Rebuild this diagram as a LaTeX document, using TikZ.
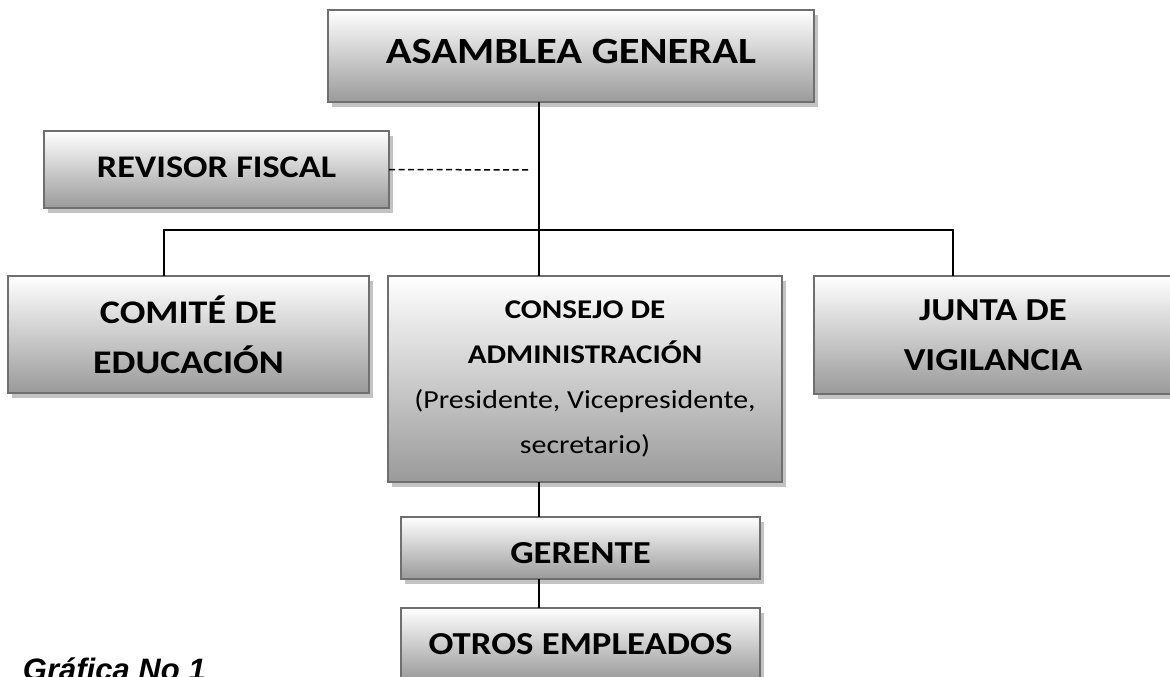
\documentclass[tikz,border=0pt]{standalone}
\usepackage{fontspec}
\setmainfont{Carlito}[FakeStretch=1.15]
\newfontfamily\graficafont{Liberation Sans}
\usetikzlibrary{calc,positioning,shadows}
\definecolor{boxline}{HTML}{6F6F6F}
\definecolor{boxshade}{HTML}{9A9A9A}
\definecolor{boxshadow}{HTML}{C3C3C3}
\tikzset{
	org chart/.style={
		x=1pt, y=-1pt,
		line width=2pt,
		every node/.style={inner sep=0pt, outer sep=0pt},
		rel/.style={draw, line width=2pt},
		aux/.style={draw, line width=1.5pt, dash pattern=on 6pt off 3.5pt}
		},
	ob/.style 2 args={
		draw=boxline, line width=2.2pt,
		top color=white, bottom color=boxshade,
		drop shadow={shadow xshift=4pt, shadow yshift=-5pt, fill=boxshadow, opacity=1},
		minimum width=#1pt, minimum height=#2pt,
		align=center, font=\bfseries},
	ob font/.style={font=\bfseries\fontsize{#1}{50}\selectfont}
}

\begin{document}
\begin{tikzpicture}[org chart]
  \useasboundingbox (0,0) rectangle (1170,677);
  \node[ob={486}{92}, ob font=37, text depth=10pt] (asamblea) at (571,56) {ASAMBLEA GENERAL};
  \node[ob={345}{77}, ob font=31.5, text depth=5pt] (revisor) at (216.5,169.5) {REVISOR FISCAL};
  \node[ob={361}{117}, ob font=33] (comite) at (188.5,334.5) {COMITÉ DE\\EDUCACIÓN};
  \node[ob={394}{206}, font=\bfseries\fontsize{27}{45}\selectfont] (consejo) at (585,379)
    {CONSEJO DE\\ADMINISTRACIÓN\\{\mdseries\fontsize{26}{45}\selectfont (Presidente, Vicepresidente,}\\{\mdseries\fontsize{26}{45}\selectfont secretario)}};
  \node[ob={358}{118}, ob font=32, text depth=-6pt] (junta) at (993,335) {JUNTA DE\\VIGILANCIA};
  \node[ob={359}{62}, ob font=32, text height=31pt] (gerente) at (580.5,548) {GERENTE};
  \node[ob={359}{72}, ob font=32] (otros) at (580.5,644) {OTROS EMPLEADOS};
  \node[anchor=base west, font=\graficafont\bfseries\itshape\fontsize{31}{36}\selectfont] (grafica) at (23,680) {Gráfica No 1};
  % lines between the boxes
  \coordinate (trunk) at (539,230);
  \coordinate (branchL) at (164,230);
  \coordinate (branchR) at (953,230);
  \coordinate (dashend) at (530,170);
  \draw[rel] (asamblea.south -| trunk) -- (consejo.north -| trunk);
  \draw[rel] (comite.north -| branchL) -- (branchL) -- (branchR) -- (junta.north -| branchR);
  \draw[aux] (revisor.east) -- (dashend);
  \draw[rel] (consejo.south -| trunk) -- (gerente.north -| trunk);
  \draw[rel] (gerente.south -| trunk) -- (otros.north -| trunk);
\end{tikzpicture}
\end{document}
